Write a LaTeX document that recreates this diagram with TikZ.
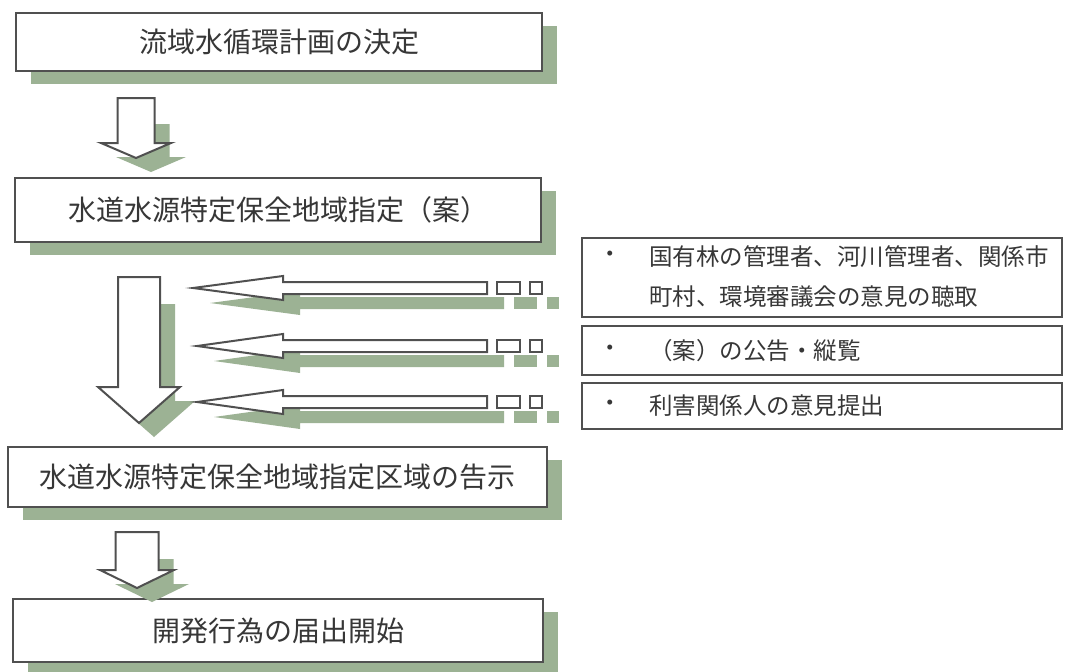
\documentclass[tikz,border=0pt]{standalone}
\usepackage{fontspec}
\newfontfamily\jp{Noto Sans CJK JP}
\usetikzlibrary{shadows}
\definecolor{lc}{RGB}{80,80,80}
\definecolor{tc}{RGB}{55,55,55}
\definecolor{sg}{RGB}{156,178,148}
\newcommand\dnpath[6]{(#1-#5,#2) -- (#1+#5,#2) -- (#1+#5,#3) -- (#1+#6,#3) -- (#1,#4) -- (#1-#6,#3) -- (#1-#5,#3) -- cycle}
\newcommand\lfpath[6]{(#1,#2) -- (#3,#2-#6) -- (#3,#2-#5) -- (#4,#2-#5) -- (#4,#2+#5) -- (#3,#2+#5) -- (#3,#2+#6) -- cycle}
\begin{document}
\begin{tikzpicture}[x=1pt,y=-1pt,
  mbox/.style={draw=lc, line width=2pt, fill=white, inner sep=0pt, text=tc,
    font=\jp\fontsize{28}{34}\selectfont,
    general shadow={shadow xshift=15pt, shadow yshift=-13pt, fill=sg, draw=none}},
  rbox/.style={draw=lc, line width=1.8pt, fill=white, inner sep=0pt, minimum width=480pt},
  rtext/.style={text=tc, inner sep=0pt, font=\jp\fontsize{23.5}{28}\selectfont},
  arr/.style={draw=lc, line width=2pt, fill=white, line join=miter},
  shad/.style={fill=sg}]
\useasboundingbox (0,0) rectangle (1071,672);
\fill[white] (0,0) rectangle (1071,672);

% main boxes
\node[mbox, minimum width=526pt, minimum height=58pt] (b1) at (279,42) {流域水循環計画の決定};
\node[mbox, minimum width=526pt, minimum height=64pt] (b2) at (278,210) {水道水源特定保全地域指定（案）};
\node[mbox, minimum width=539pt, minimum height=60pt] (b3) at (277.5,477) {水道水源特定保全地域指定区域の告示};
\node[mbox, minimum width=530pt, minimum height=63pt] (b4) at (278,630.5) {開発行為の届出開始};

% down arrows
\begin{scope}[shift={(15,14)}]
  \fill[shad] \dnpath{136}{110}{143}{158}{18.5}{35};
  \fill[shad] \dnpath{139}{290}{387}{423}{21}{41};
  \fill[shad] \dnpath{137}{545}{570}{588}{21.5}{37};
\end{scope}
\draw[arr] \dnpath{136}{98}{143}{158}{18.5}{35};
\draw[arr] \dnpath{139}{277}{387}{423}{21}{41};
\draw[arr] \dnpath{137}{532}{570}{588}{21.5}{37};

% left arrows with dashed tails
\foreach \t/\cy in {193/288, 197/346, 197/402}{
  \begin{scope}[shift={(17,15)}]
    \fill[shad] \lfpath{\t}{\cy}{283}{487}{6}{12};
    \fill[shad] (497,\cy-6) rectangle (520,\cy+6);
    \fill[shad] (530,\cy-6) rectangle (542,\cy+6);
  \end{scope}
  \draw[arr] \lfpath{\t}{\cy}{283}{487}{6}{12};
  \draw[arr] (497,\cy-6) rectangle (520,\cy+6);
  \draw[arr] (530,\cy-6) rectangle (542,\cy+6);
}

% right boxes
\node[rbox, minimum height=79pt] (r1) at (822,277.5) {};
\node[rbox, minimum height=49pt] (r2) at (822,350.5) {};
\node[rbox, minimum height=46pt] (r3) at (822,406) {};

\node[rtext] (d1) at (610,257) {・};
\node[rtext, anchor=west] (t1a) at (649,257) {国有林の管理者、河川管理者、関係市};
\node[rtext, anchor=west] (t1b) at (649,297) {町村、環境審議会の意見の聴取};
\node[rtext] (d2) at (610,351) {・};
\node[rtext, anchor=west] (t2) at (649,351) {（案）の公告・縦覧};
\node[rtext] (d3) at (610,406) {・};
\node[rtext, anchor=west] (t3) at (649,406) {利害関係人の意見提出};
\end{tikzpicture}
\end{document}
